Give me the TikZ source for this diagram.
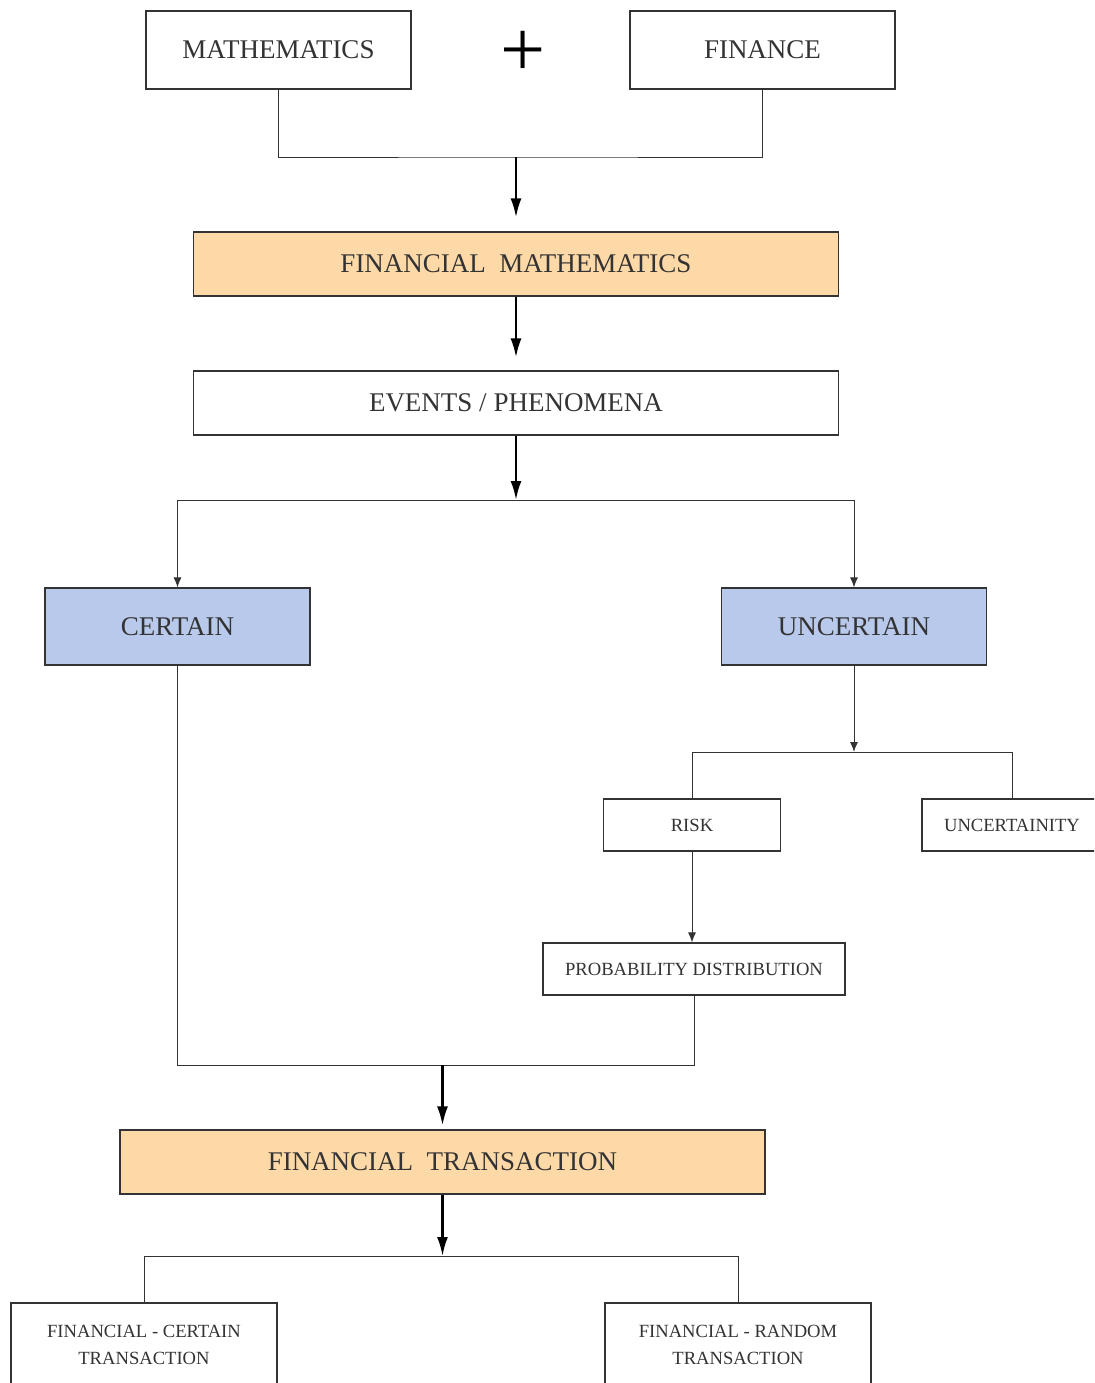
\documentclass[tikz,border=0pt]{standalone}
\usepackage{fontspec}
\setmainfont{Liberation Serif}
\usetikzlibrary{arrows.meta}
\definecolor{boxorange}{HTML}{FDD9A8}
\definecolor{boxblue}{HTML}{B9C9EB}
\definecolor{ink}{HTML}{333333}
\tikzset{
	box/.style={draw=ink,line width=0.6pt,inner sep=0pt,text=ink,align=center},
	bigbox/.style={box,font=\fontsize{13.5}{16}\selectfont},
	smallbox/.style={box,font=\fontsize{9.3}{13.5}\selectfont},
	link/.style={draw=ink,line width=0.5pt},
	thinarrow/.style={link,-{Latex[length=5pt,width=4pt]}},
	bigarrow/.style={draw=black,line width=1.2pt,-{Latex[length=9.5pt,width=5.5pt]}},
}
\begin{document}
\begin{tikzpicture}[x=0.5pt,y=-0.5pt]
		\clip (0,0) rectangle (1094,1383);
		\fill[white] (0,0) rectangle (1094,1383);
		\node [bigbox,minimum width=132.5pt,minimum height=39pt] at (278.5,50) (math) {MATHEMATICS};
		\node [text=black,font=\fontsize{40}{40}\selectfont] at (523,54) (plus) {+};
		\node [bigbox,minimum width=132.5pt,minimum height=39pt] at (762.5,50) (fin) {FINANCE};
		\coordinate (j1) at (516,157);
		\draw [link] (math) |- (j1) -| (fin);
		\node [bigbox,fill=boxorange,minimum width=322.5pt,minimum height=32pt] at (516,264) (fm) {FINANCIAL\ \ MATHEMATICS};
		\draw [bigarrow,shorten >=7pt] (j1) -- (fm);
		\node [bigbox,minimum width=322.5pt,minimum height=32pt] at (516,403) (ev) {EVENTS / PHENOMENA};
		\draw [bigarrow,shorten >=6.5pt] (fm) -- (ev);
		\coordinate (j2) at (516,500);
		\draw [bigarrow] (ev) -- (j2);
		\node [bigbox,fill=boxblue,minimum width=132.5pt,minimum height=38.5pt] at (177.5,626.5) (cert) {CERTAIN};
		\node [bigbox,fill=boxblue,minimum width=132.5pt,minimum height=38.5pt] at (854,626.5) (unc) {UNCERTAIN};
		\draw [thinarrow] (j2) -| (cert);
		\draw [thinarrow] (j2) -| (unc);
		\coordinate (j3) at (854,752);
		\draw [thinarrow] (unc) -- (j3);
		\node [smallbox,minimum width=88.5pt,minimum height=26pt] at (692,825) (risk) {RISK};
		\node [smallbox,minimum width=90pt,minimum height=26pt] at (1012,825) (unct) {UNCERTAINITY};
		\draw [link] (risk) |- (j3) -| (unct);
		\node [smallbox,minimum width=151pt,minimum height=26pt] at (694,969) (prob) {PROBABILITY DISTRIBUTION};
		\draw [thinarrow] (risk) -- (risk |- prob.north);
		\coordinate (j4) at (442.5,1065);
		\draw [link] (prob) |- (j4) -| (cert);
		\node [bigbox,fill=boxorange,minimum width=322.5pt,minimum height=32pt] at (442.5,1162) (ft) {FINANCIAL\ \ TRANSACTION};
		\draw [bigarrow,shorten >=2pt] (j4) -- (ft);
		\coordinate (j5) at (442.5,1256);
		\draw [bigarrow] (ft) -- (j5);
		\node [smallbox,minimum width=133pt,minimum height=42pt] at (144,1345) (fct) {FINANCIAL - CERTAIN\\TRANSACTION};
		\node [smallbox,minimum width=133pt,minimum height=42pt] at (738,1345) (frt) {FINANCIAL - RANDOM\\TRANSACTION};
		\draw [link] (fct) |- (j5) -| (frt);
	\end{tikzpicture}
\end{document}
